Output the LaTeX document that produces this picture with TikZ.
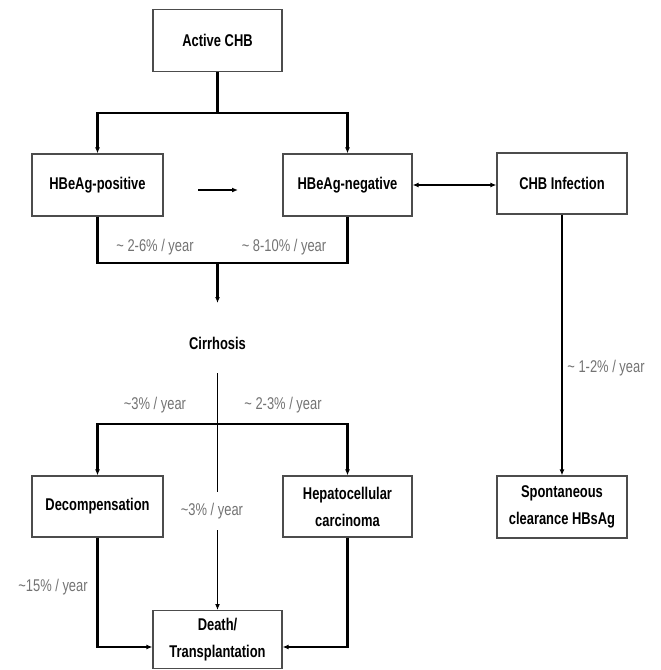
\documentclass[tikz,border=0pt]{standalone}
\usepackage{fontspec}
\setmainfont{Liberation Sans}[FakeStretch=0.76]
\usetikzlibrary{arrows.meta}
\begin{document}
\begin{tikzpicture}[x=1pt,y=-1pt,
  box/.style={draw=black!70,line width=1.2pt,fill=white,minimum width=129pt,minimum height=62pt,inner sep=0pt,align=center,font=\fontsize{17}{27}\selectfont\bfseries},
  lbl/.style={text=black!55,font=\fontsize{17}{19}\selectfont,inner sep=1pt},
  con/.style={line width=2.4pt,draw=black},
  thin/.style={line width=1.5pt,draw=black},
  tip/.style={-{Latex[length=6pt,width=5pt]}},
  tips/.style={{Latex[length=6pt,width=5pt]}-{Latex[length=6pt,width=5pt]}}]
\useasboundingbox (0,0) rectangle (661,670);
% boxes
\node[box] (act) at (217.5,40.5) {Active CHB};
\node[box,minimum width=131pt] (pos) at (97.5,185) {HBeAg-positive};
\node[box] (neg) at (347.5,185) {HBeAg-negative};
\node[box,minimum width=130pt,minimum height=61pt] (inf) at (562,183.5) {CHB Infection};
\node[box,minimum width=130pt,minimum height=62pt] (spo) at (562,507) {Spontaneous\\clearance HBsAg};
\node[font=\fontsize{17}{19}\selectfont\bfseries,inner sep=1pt] (cir) at (217.5,343) {Cirrhosis};
\node[box,minimum width=131pt,minimum height=61pt] (dec) at (97.5,506.5) {Decompensation};
\node[box,minimum height=61pt] (hcc) at (347.5,506.5) {Hepatocellular\\carcinoma};
\node[box,minimum height=58pt,anchor=north] (dth) at (217.5,610) {Death/\\Transplantation};
% coordinates
\coordinate (s1) at (217.5,113);
\coordinate (m1) at (198,190);
\coordinate (m2) at (238,190);
\coordinate (j1) at (217.5,263);
\coordinate (c0) at (217.5,303);
\coordinate (c1) at (217.5,373);
\coordinate (s2) at (217.5,424);
% connectors
\draw[con] (act.south) -- (s1);
\draw[con,tip] (s1) -| (pos.north);
\draw[con,tip] (s1) -| (neg.north);
\draw[con,tip] (m1) -- (m2);
\draw[con,tips] (neg.east) -- (neg.east -| inf.west);
\draw[thin,tip] (inf.south) -- (spo.north);
\draw[con] (pos.south) |- (j1) -| (neg.south);
\draw[con,tip] (j1) -- (c0);
\draw[thin,tip] (c1) -- (dth.north);
\draw[con,tip] (s2) -| (dec.north);
\draw[con,tip] (s2) -| (hcc.north);
\draw[con,tip] (dec.south) |- (dth.west |- 0,647);
\draw[con,tip] (hcc.south) |- (dth.east |- 0,647);
% labels
\node[lbl] (l1) at (155,247) {\textasciitilde\ 2-6\% / year};
\node[lbl] (l2) at (284,247) {\textasciitilde\ 8-10\% / year};
\node[lbl] (l3) at (155,405) {\textasciitilde3\% / year};
\node[lbl] (l4) at (283,405) {\textasciitilde\ 2-3\% / year};
\node[lbl,fill=white,inner ysep=11pt] (l5) at (212,511) {\textasciitilde3\% / year};
\node[lbl] (l6) at (53,587) {\textasciitilde15\% / year};
\node[lbl] (l7) at (606,368) {\textasciitilde\ 1-2\% / year};
\end{tikzpicture}
\end{document}
